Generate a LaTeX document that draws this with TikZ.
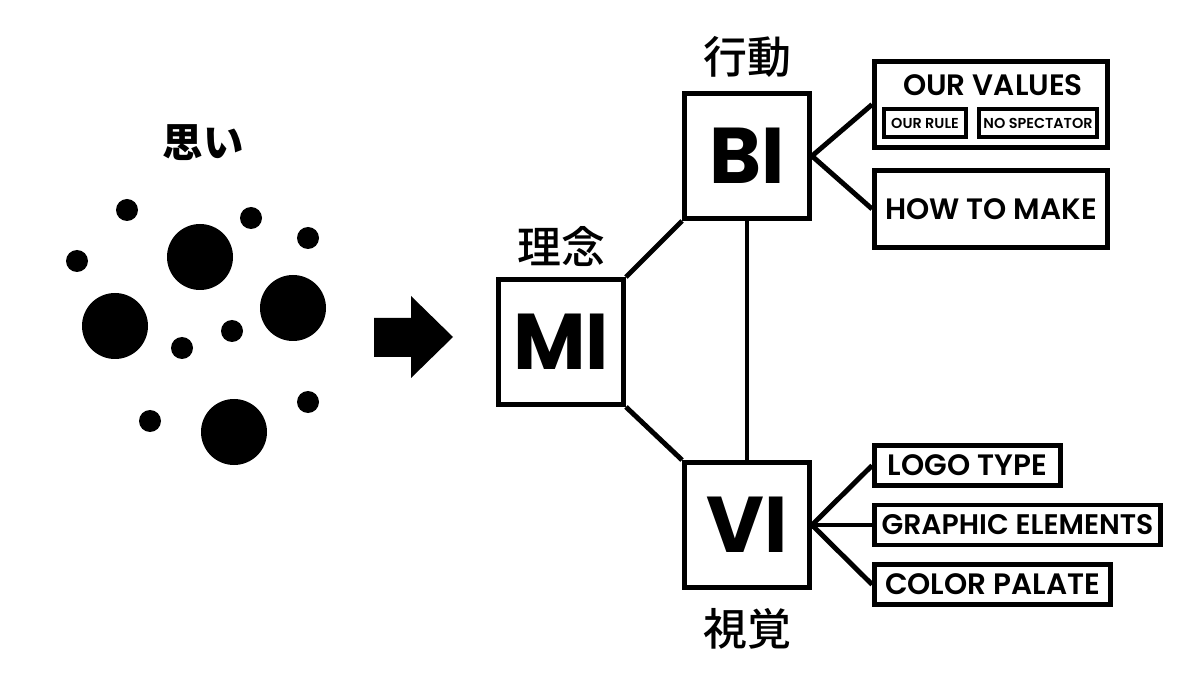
\documentclass[tikz,border=0pt]{standalone}
\usepackage{fontspec}
\usepackage{tikz}
\usetikzlibrary{positioning}
\setmainfont{Poppins}[BoldFont={Poppins SemiBold}]
\newfontfamily\geoheavy{Poppins}
\newfontfamily\jpfont{Noto Sans CJK JP}[BoldFont={Noto Sans CJK JP Medium}]
\newfontfamily\jpheavy{Noto Sans CJK JP}

\begin{document}
\begin{tikzpicture}[
    x=0.02cm, y=-0.02cm,
    ci/.style={draw, line width=2.8pt, minimum width=2.5cm, minimum height=2.5cm, inner sep=0pt, font=\geoheavy\fontsize{45}{45}\selectfont\bfseries},
    item/.style={draw, line width=2.8pt, minimum height=0.8cm, inner sep=0pt, font=\fontsize{16.8}{16.8}\selectfont\bfseries},
    tag/.style={draw, line width=2.2pt, minimum height=0.56cm, inner sep=0pt, font=\fontsize{8.2}{8.2}\selectfont\bfseries},
    jp/.style={inner sep=0pt, font=\jpfont\fontsize{25}{25}\selectfont\bfseries},
    link/.style={line width=2.8pt}
]
\useasboundingbox (0,0) rectangle (1200,675);

% Thoughts
\node[jp, font=\jpheavy\fontsize{23}{23}\selectfont\bfseries] (omoi) at (203,143) {思い};
\foreach \x/\y/\r in {127/210/11, 77/261/11, 200/257/33, 251/218/11, 308/238/11, 115/326/33,
    293/308/33, 232/331/11, 182/348/11, 150/421/11, 234/432/33, 308/402/11}
  \fill (\x,\y) circle ({0.02cm*\r});

% Big arrow
\fill (374,318) -- (411,318) -- (411,296) -- (453,337) -- (411,378) -- (411,357) -- (374,357) -- cycle;

% MI / BI / VI
\node[ci] (mi) at (561,342) {MI};
\node[ci] (bi) at (747,156) {BI};
\node[ci] (vi) at (747,525) {VI};

\node[jp, above=0.2cm of mi] (milab) {理念};
\node[jp, above=0.26cm of bi] (bilab) {行動};
\node[jp, below=0.36cm of vi] (vilab) {視覚};

% BI items
\node[item, minimum width=4.66cm, minimum height=1.72cm] (vals) at (991,104.5) {};
\node[inner sep=0pt, font=\fontsize{16.8}{16.8}\selectfont\bfseries] (valstitle) at (993,85) {OUR VALUES};
\node[tag, minimum width=1.64cm] (rule) at (925,123) {OUR RULE};
\node[tag, minimum width=2.36cm] (spec) at (1038,123) {NO SPECTATOR};
\node[item, minimum width=4.66cm, minimum height=1.54cm] (how) at (991,209) {HOW TO MAKE};

% VI items
\node[item, minimum width=3.72cm] (logo) at (967.5,465.5) {LOGO TYPE};
\node[item, minimum width=5.72cm, font=\fontsize{16.1}{16.1}\selectfont\bfseries] (graphic) at (1017.5,525) {GRAPHIC ELEMENTS};
\node[item, minimum width=4.72cm] (palate) at (992.5,584.5) {COLOR PALATE};

% Links
\draw[link] (mi.north east) -- (bi.south west);
\draw[link] (mi.south east) -- (vi.north west);
\draw[link] (bi.south) -- (vi.north);
\draw[link] (bi.east) -- (vals.west);
\draw[link] (bi.east) -- (how.west);
\draw[link] (vi.east) -- (logo.west);
\draw[link] (vi.east) -- (graphic.west);
\draw[link] (vi.east) -- (palate.west);

\end{tikzpicture}
\end{document}
